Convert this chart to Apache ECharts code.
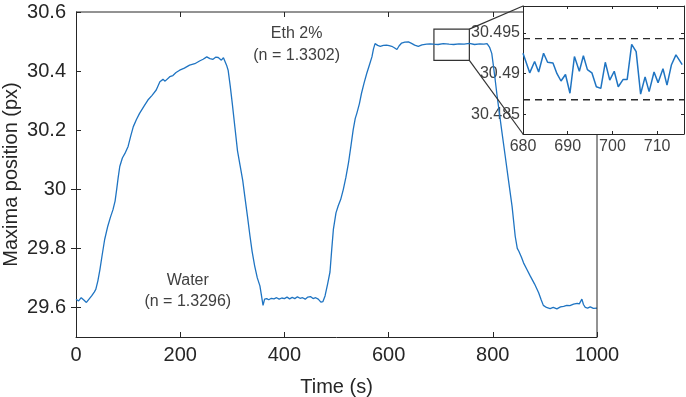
<!DOCTYPE html>
<html><head><meta charset="utf-8">
<script src="https://cdn.jsdelivr.net/npm/echarts@6/dist/echarts.min.js"></script>
<style>html,body{margin:0;padding:0;background:#fff}#c{width:686px;height:397px}</style>
</head><body><div id="c"></div>
<script>
// ---- data ----
const mainTime = [
  0,5,10,15,20,25,30,35,38,42,
  46,50,55,61,66,71,75,78,81,84,
  89,95,100,105,110,116,122,130,138,146,
  154,161,167,171,174,180,186,192,199,208,
  218,228,238,244,251,257,263,268,273,276,
  279,283,286,289,292,296,300,305,310,315,
  320,324,329,334,338,343,348,353,356,359,
  362,366,370,375,380,385,390,395,400,405,
  410,415,420,425,430,435,440,445,450,455,
  460,465,470,474,478,483,487.5,491,494,499,
  503.5,508,513,518,523,528,532,536,539,544,
  548,553,558,563,568,571,574,579,584,590,
  596,601,606,611,616,620,625,631,638,644,
  650,657,664,673,680,686,695,705,716,725,
  735,745,755,765,775,783,789,794,798,801,
  804.6,808,811,817,824,830,837,843,847,850,
  855,859,865,872,880,888,893,897,903,910,
  916,923,930,936,942,948,955,962,966,971,
  974,977.5,982,987,993,1000
];
const mainValue = [
  29.628,29.622,29.633,29.625,29.617,29.628,29.639,29.652,29.661,29.690,
  29.729,29.775,29.830,29.875,29.905,29.931,29.960,29.999,30.040,30.077,
  30.106,30.125,30.145,30.180,30.212,30.236,30.257,30.280,30.302,30.318,
  30.336,30.364,30.372,30.366,30.370,30.381,30.385,30.395,30.403,30.410,
  30.420,30.425,30.435,30.440,30.448,30.442,30.440,30.447,30.446,30.441,
  30.437,30.445,30.440,30.420,30.403,30.350,30.290,30.210,30.130,30.080,
  30.030,29.976,29.910,29.841,29.790,29.740,29.700,29.673,29.640,29.607,
  29.628,29.630,29.626,29.631,29.629,29.633,29.628,29.632,29.630,29.635,
  29.629,29.634,29.630,29.636,29.631,29.633,29.628,29.635,29.637,29.630,
  29.633,29.628,29.618,29.620,29.639,29.680,29.720,29.800,29.864,29.920,
  29.945,29.965,29.999,30.040,30.089,30.150,30.201,30.240,30.257,30.290,
  30.325,30.360,30.392,30.420,30.448,30.475,30.493,30.487,30.484,30.487,
  30.488,30.486,30.484,30.479,30.473,30.485,30.495,30.498,30.499,30.494,
  30.488,30.484,30.489,30.491,30.492,30.491,30.490,30.493,30.491,30.490,
  30.492,30.491,30.494,30.490,30.492,30.491,30.493,30.480,30.460,30.420,
  30.370,30.320,30.280,30.200,30.110,30.032,29.942,29.841,29.800,29.790,
  29.770,29.751,29.730,29.706,29.680,29.650,29.625,29.607,29.600,29.596,
  29.600,29.595,29.602,29.604,29.607,29.606,29.611,29.614,29.612,29.628,
  29.610,29.600,29.598,29.602,29.597,29.598
];
const insetTime = [
  680,681.5,682.6,683.5,684.6,685.5,686.7,687.6,688.5,689.5,
  690.5,691.5,692.6,693.5,694.4,695.4,696.4,697.4,698.4,699.4,
  700.4,701.3,702.4,703.3,704.3,705.3,706.3,707.3,708.2,709.3,
  710.2,711.3,712.2,713.2,714.2,715.6
];
const insetValue = [
  30.4925,30.4901,30.4915,30.4902,30.4925,30.4914,30.4913,30.4900,30.4891,30.4899,
  30.4876,30.4921,30.4903,30.4922,30.4905,30.4901,30.4884,30.4882,30.4914,30.4892,
  30.4903,30.4884,30.4893,30.4893,30.4936,30.4927,30.4875,30.4896,30.4878,30.4902,
  30.4889,30.4906,30.4886,30.4911,30.4923,30.4911
];
const insetBands = [30.4943, 30.4868];
const mainYTicks = [29.6, 29.8, 30, 30.2, 30.4, 30.6];
const mainYRightTicks = [29.6, 29.8, 30];
const mainXTopTicks = [200, 400, 600, 800];
const insetYTicks = [30.485, 30.49, 30.495];
const zoomBoxX = [687, 755];
const zoomBoxY = [30.436, 30.542];
const labels = [
  {x: 423.5, y: 30.528, text: 'Eth 2%'},
  {x: 423.5, y: 30.454, text: '(n = 1.3302)'},
  {x: 214.6, y: 29.692, text: 'Water'},
  {x: 214.6, y: 29.621, text: '(n = 1.3296)'}
];

// ---- chart ----
const FONT = "'Liberation Sans', Arial, Helvetica, sans-serif";
const AX = '#262626';
const LINE = '#1f74c2';
const mainRange = {xmin: 0, xmax: 1000, ymin: 29.5, ymax: 30.6};
const insetRange = {xmin: 680, xmax: 716, ymin: 30.4826, ymax: 30.4983};

const chart = echarts.init(document.getElementById('c'), null, {renderer: 'canvas'});
const mainData = mainTime.map((t, i) => [t, mainValue[i]]);
const insetData = insetTime.map((t, i) => [t, insetValue[i]]);

const axLine = {show: true, lineStyle: {color: AX, width: 1}};
const tickIn = (len) => ({show: true, inside: true, length: len, lineStyle: {color: AX, width: 1}});

const bandSeries = insetBands.map(v => ({
  type: 'line', xAxisIndex: 2, yAxisIndex: 2, data: [[insetRange.xmin, v], [insetRange.xmax, v]],
  showSymbol: false, symbol: 'none', silent: true, z: 3,
  lineStyle: {color: '#2a2a2a', type: [7, 5], width: 1.3}
}));

chart.setOption({
  animation: false,
  backgroundColor: '#fff',
  grid: [
    {left: 76, top: 12, width: 521, height: 325, outerBoundsMode: 'none', containLabel: false},
    {left: 523, top: 6, width: 161, height: 128, outerBoundsMode: 'none', containLabel: false,
     show: true, backgroundColor: '#fff', borderWidth: 0}
  ],
  xAxis: [
    {type: 'value', gridIndex: 0, position: 'bottom', min: 0, max: 1000, interval: 200,
     axisLine: axLine, axisTick: tickIn(5), splitLine: {show: false},
     axisLabel: {color: AX, fontSize: 20, fontFamily: FONT, margin: 8, formatter: v => String(v)},
     name: 'Time (s)', nameLocation: 'middle', nameGap: 40, nameMoveOverlap: false,
     nameTextStyle: {color: AX, fontSize: 20, fontFamily: FONT}},
    {type: 'value', gridIndex: 0, position: 'top', min: 0, max: 1000,
     axisLine: {show: false}, axisTick: Object.assign(tickIn(5), {customValues: mainXTopTicks}),
     axisLabel: {show: false}, splitLine: {show: false}},
    {type: 'value', gridIndex: 1, position: 'bottom', min: insetRange.xmin, max: insetRange.xmax, interval: 10,
     axisLine: axLine, axisTick: tickIn(3), splitLine: {show: false},
     axisLabel: {color: '#404040', fontSize: 16, fontFamily: FONT, margin: 5,
       formatter: v => (v >= 716 ? '' : String(v))}},
    {type: 'value', gridIndex: 1, position: 'top', min: insetRange.xmin, max: insetRange.xmax, interval: 10,
     axisLine: axLine, axisTick: tickIn(3), axisLabel: {show: false}, splitLine: {show: false}}
  ],
  yAxis: [
    {type: 'value', gridIndex: 0, position: 'left', min: 29.5, max: 30.6,
     axisLine: axLine, axisTick: Object.assign(tickIn(5), {customValues: mainYTicks}),
     splitLine: {show: false},
     axisLabel: {color: AX, fontSize: 20, fontFamily: FONT, margin: 10, customValues: mainYTicks},
     name: 'Maxima position (px)', nameLocation: 'middle', nameGap: 55, nameRotate: 90, nameMoveOverlap: false,
     nameTextStyle: {color: AX, fontSize: 20, fontFamily: FONT}},
    {type: 'value', gridIndex: 0, position: 'right', min: 29.5, max: 30.6,
     axisLine: {show: false}, axisTick: Object.assign(tickIn(5), {customValues: mainYRightTicks}),
     axisLabel: {show: false}, splitLine: {show: false}},
    {type: 'value', gridIndex: 1, position: 'left', min: insetRange.ymin, max: insetRange.ymax,
     axisLine: axLine, axisTick: Object.assign(tickIn(3), {customValues: insetYTicks}),
     splitLine: {show: false},
     axisLabel: {color: '#404040', fontSize: 16, fontFamily: FONT, margin: 3, customValues: insetYTicks}},
    {type: 'value', gridIndex: 1, position: 'right', min: insetRange.ymin, max: insetRange.ymax,
     axisLine: axLine, axisTick: Object.assign(tickIn(3), {customValues: insetYTicks}),
     axisLabel: {show: false}, splitLine: {show: false}}
  ],
  series: [
    {type: 'line', xAxisIndex: 0, yAxisIndex: 0, data: mainData, showSymbol: false, symbol: 'none',
     lineStyle: {color: LINE, width: 1.3}, z: 3,
     markArea: {silent: true, itemStyle: {color: 'rgba(0,0,0,0)', borderColor: '#333', borderWidth: 1.2},
       data: [[{coord: [zoomBoxX[0], zoomBoxY[1]]}, {coord: [zoomBoxX[1], zoomBoxY[0]]}]]}},
    {type: 'line', xAxisIndex: 2, yAxisIndex: 2, data: insetData, showSymbol: false, symbol: 'none',
     lineStyle: {color: LINE, width: 1.5}, z: 3, clip: true}
  ].concat(bandSeries)
});

function p0(x, y) { return chart.convertToPixel({gridIndex: 0}, [x, y]); }
function p1(x, y) { return chart.convertToPixel({gridIndex: 1}, [x, y]); }

const insetTL = p1(insetRange.xmin, insetRange.ymax);
const insetBL = p1(insetRange.xmin, insetRange.ymin);
const boxTR = p0(zoomBoxX[1], zoomBoxY[1]);
const boxBR = p0(zoomBoxX[1], zoomBoxY[0]);
const mainTL = p0(mainRange.xmin, mainRange.ymax);
const mainBR = p0(mainRange.xmax, mainRange.ymin);

const lineStyle = {stroke: AX, lineWidth: 1};
const graphics = [
  {type: 'line', shape: {x1: mainTL[0], y1: mainTL[1], x2: insetTL[0], y2: mainTL[1]}, style: lineStyle, z: 10},
  {type: 'line', shape: {x1: mainBR[0], y1: insetBL[1], x2: mainBR[0], y2: mainBR[1]}, style: lineStyle, z: 10},
  {type: 'line', shape: {x1: boxTR[0], y1: boxTR[1], x2: insetTL[0], y2: insetTL[1]}, style: {stroke: '#333', lineWidth: 1.2}, z: 10},
  {type: 'line', shape: {x1: boxBR[0], y1: boxBR[1], x2: insetBL[0], y2: insetBL[1]}, style: {stroke: '#333', lineWidth: 1.2}, z: 10}
];
labels.forEach(l => {
  const p = p0(l.x, l.y);
  graphics.push({type: 'text', x: p[0], y: p[1], z: 10,
    style: {text: l.text, fill: '#404040', font: '16px ' + FONT, textAlign: 'center', textVerticalAlign: 'middle'}});
});
chart.setOption({graphic: graphics});
</script>
</body></html>
